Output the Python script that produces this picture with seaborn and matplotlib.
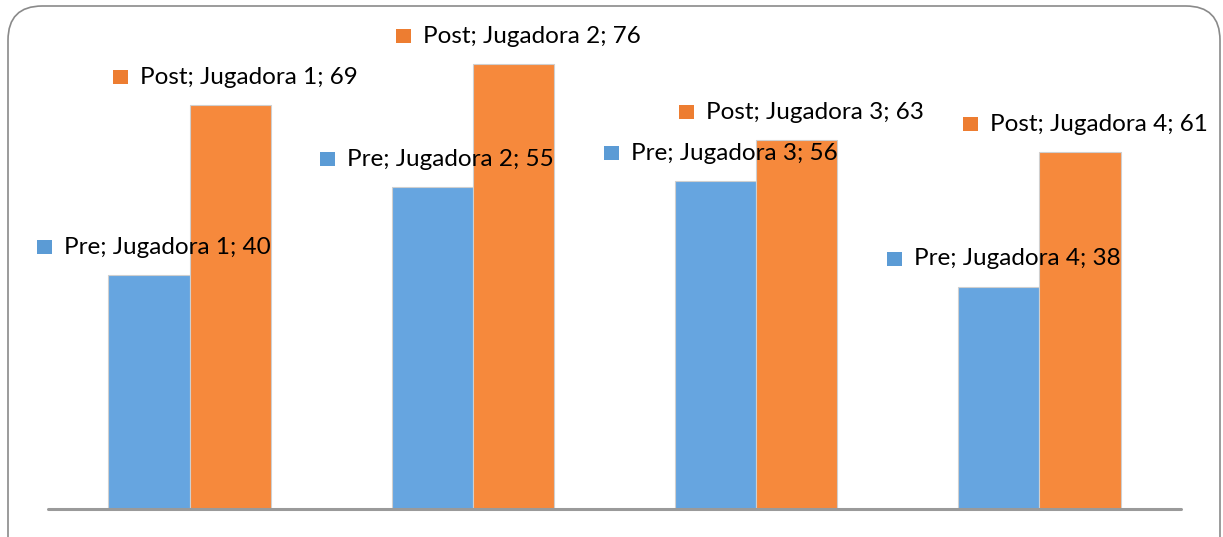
import matplotlib
matplotlib.use("Agg")
import matplotlib.pyplot as plt
import seaborn as sns
import pandas as pd
from matplotlib.patches import FancyBboxPatch, Rectangle
from matplotlib.offsetbox import AnnotationBbox, HPacker, TextArea, DrawingArea

# Data
players = ["Jugadora 1", "Jugadora 2", "Jugadora 3", "Jugadora 4"]
series = ["Pre", "Post"]
pre_values = [40, 55, 56, 38]
post_values = [69, 76, 63, 61]

bar_colors = {"Pre": "#66A5E0", "Post": "#F6893C"}
marker_colors = {"Pre": "#5B9BD5", "Post": "#ED7D31"}

df = pd.DataFrame({
    "Jugadora": players * 2,
    "Serie": ["Pre"] * len(players) + ["Post"] * len(players),
    "Valor": pre_values + post_values,
})

sns.set_theme(style="white")
plt.rcParams["font.family"] = ["Lato", "DejaVu Sans"]

DPI = 100
fig = plt.figure(figsize=(12.23, 5.37), dpi=DPI)
ax = fig.add_axes([0.03925, 0.0521, 0.9264, 0.8715])

sns.barplot(data=df, x="Jugadora", y="Valor", hue="Serie", hue_order=series,
            palette=bar_colors, saturation=1, width=0.573, gap=0, dodge=True,
            edgecolor="#cfcfcf", linewidth=0.8, legend=False, ax=ax,
            errorbar=None)

ax.set_xlim(-0.5, 3.5)
ax.set_ylim(0, 80)
ax.set_xlabel("")
ax.set_ylabel("")
ax.set_xticks([])
ax.set_yticks([])
for side in ("top", "left", "right"):
    ax.spines[side].set_visible(False)
ax.spines["bottom"].set_color("#9a9a9a")
ax.spines["bottom"].set_linewidth(2.2)
ax.spines["bottom"].set_capstyle("round")

# Data labels: coloured square + "Serie; Jugadora; valor", centred above each bar
px = 72.0 / DPI
for container, name in zip(ax.containers, series):
    vals = pre_values if name == "Pre" else post_values
    for bar, player, v in zip(container, players, vals):
        cx = bar.get_x() + bar.get_width() / 2
        sq = DrawingArea(15 * px, 14 * px, 0, 0)
        sq.add_artist(Rectangle((0, 0), 15 * px, 14 * px,
                                facecolor=marker_colors[name], edgecolor="none"))
        txt = TextArea(f"{name}; {player}; {v}",
                       textprops=dict(fontsize=17.5, color="#000000"))
        pack = HPacker(children=[sq, txt], align="center", pad=0, sep=12 * px)
        ab = AnnotationBbox(pack, (cx, v), xybox=(5 * px, 28 * px),
                            xycoords="data", boxcoords="offset points",
                            box_alignment=(0.5, 0.5), frameon=False,
                            annotation_clip=False, zorder=5)
        ax.add_artist(ab)

# Rounded outer frame
W, H = 1223, 537
frame = FancyBboxPatch((8 / W, -40 / H), 1212 / W, (H - 6 + 40) / H,
                       boxstyle="round,pad=0,rounding_size=0.028",
                       transform=fig.transFigure, facecolor="none",
                       edgecolor="#8a8a8a", linewidth=1.2, mutation_aspect=W / H)
fig.patches.append(frame)

fig.savefig("out.png", dpi=DPI, facecolor="white")
